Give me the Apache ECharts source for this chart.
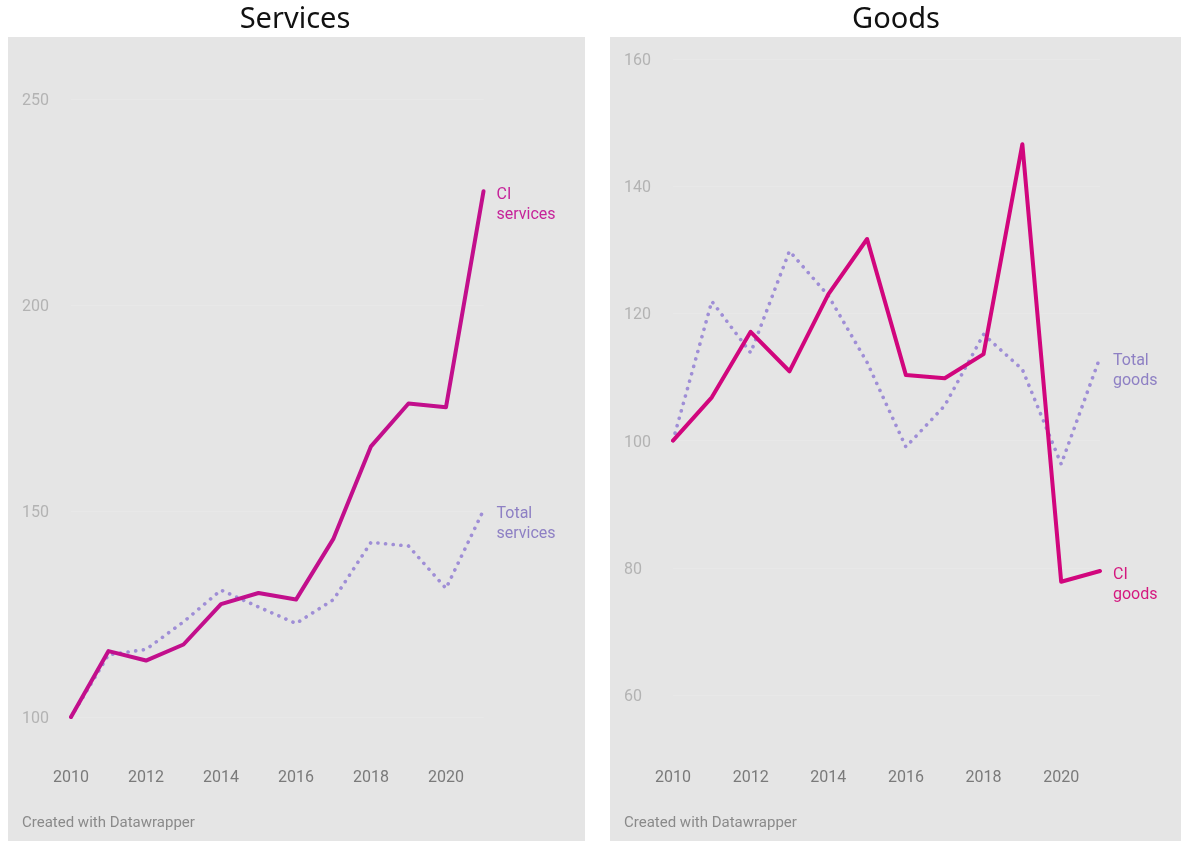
<!DOCTYPE html>
<html>
<head>
<meta charset="utf-8">
<script src="https://cdn.jsdelivr.net/npm/echarts@6/dist/echarts.min.js"></script>
<style>
  html, body { margin: 0; padding: 0; background: #ffffff; }
  #chart { width: 1181px; height: 841px; }
</style>
</head>
<body>
<div id="chart"></div>
<script>
// Index values, 2010 = 100
const years = ['2010','2011','2012','2013','2014','2015','2016','2017','2018','2019','2020','2021'];

const ciServices    = [100, 116.0, 113.7, 117.6, 127.4, 130.1, 128.5, 143.3, 165.7, 176.1, 175.2, 227.6];
const totalServices = [100, 115.1, 116.4, 123.1, 130.8, 126.7, 122.7, 128.5, 142.4, 141.5, 131.2, 150.2];

const ciGoods    = [100, 106.8, 117.1, 110.9, 123.0, 131.7, 110.3, 109.8, 113.6, 146.6, 77.8, 79.5];
const totalGoods = [100, 121.9, 113.8, 129.8, 122.8, 112.3, 99.0, 105.5, 116.7, 111.2, 96.3, 113.1];

const servicesTicks = { min: 100, max: 250, interval: 50 };
const goodsTicks    = { min: 60, max: 160, interval: 20 };

const panelTitles = ['Services', 'Goods'];
const credit = 'Created with Datawrapper';

const FONT = 'Roboto, "Noto Sans", sans-serif';
const BG = '#e5e5e5';

const chart = echarts.init(document.getElementById('chart'), null, { renderer: 'canvas' });

function yAxisFor(ticks, gridIndex) {
  return {
    type: 'value', gridIndex,
    min: ticks.min, max: ticks.max, interval: ticks.interval,
    axisLine: { show: false }, axisTick: { show: false },
    splitLine: { show: true, lineStyle: { color: '#e8e8e8', width: 1 } },
    axisLabel: {
      align: 'left', margin: 49,
      formatter: '{t|{value}}',
      rich: { t: { color: '#b3b3b3', fontSize: 16, fontFamily: FONT, padding: [4, 0, 0, 0] } }
    }
  };
}

function xAxisFor(gridIndex, margin) {
  return {
    type: 'category', gridIndex, data: years, boundaryGap: false,
    axisLine: { show: false }, axisTick: { show: false }, splitLine: { show: false },
    axisLabel: { interval: 1, color: '#7a7a7a', fontSize: 16, fontFamily: FONT, margin }
  };
}

function ciSeries(data, idx, color, labelColor, name) {
  return {
    type: 'line', name, xAxisIndex: idx, yAxisIndex: idx, data,
    symbol: 'none', z: 3,
    lineStyle: { color, width: 4, join: 'round', cap: 'round' },
    endLabel: {
      show: true, formatter: () => name, color: labelColor,
      fontSize: 16, fontFamily: FONT, lineHeight: 20, distance: 13, offset: [0, 14], align: 'left'
    }
  };
}

function totalSeries(data, idx, name) {
  return {
    type: 'line', name, xAxisIndex: idx, yAxisIndex: idx, data,
    symbol: 'none', z: 2,
    lineStyle: { color: '#9f8ed6', width: 3.6, type: [0.1, 7.6], cap: 'round', join: 'round' },
    endLabel: {
      show: true, formatter: () => name, color: '#8e80c4',
      fontSize: 16, fontFamily: FONT, lineHeight: 20, distance: 13, offset: [0, 14], align: 'left'
    }
  };
}

const titleStyle = { fill: '#111', fontSize: 29, fontFamily: '"Noto Sans", sans-serif',
                     textAlign: 'center', textVerticalAlign: 'middle' };
const creditStyle = { fill: '#8a8a8a', fontSize: 15, fontFamily: FONT, textVerticalAlign: 'middle' };

chart.setOption({
  backgroundColor: '#ffffff',
  animation: false,
  graphic: [
    { type: 'rect', z: -10, shape: { x: 8, y: 37, width: 577, height: 804 }, style: { fill: BG } },
    { type: 'rect', z: -10, shape: { x: 610, y: 37, width: 571, height: 804 }, style: { fill: BG } },
    { type: 'text', x: 295, y: 20, style: Object.assign({ text: panelTitles[0] }, titleStyle) },
    { type: 'text', x: 896, y: 20, style: Object.assign({ text: panelTitles[1] }, titleStyle) },
    { type: 'text', x: 22, y: 823, style: Object.assign({ text: credit }, creditStyle) },
    { type: 'text', x: 624, y: 823, style: Object.assign({ text: credit }, creditStyle) }
  ],
  grid: [
    { left: 71, top: 99, width: 412.5, height: 618 },
    { left: 673, top: 59, width: 427, height: 636 }
  ],
  xAxis: [xAxisFor(0, 53), xAxisFor(1, 75)],
  yAxis: [yAxisFor(servicesTicks, 0), yAxisFor(goodsTicks, 1)],
  series: [
    totalSeries(totalServices, 0, 'Total\nservices'),
    ciSeries(ciServices, 0, '#c20f8c', '#c6239a', 'CI\nservices'),
    totalSeries(totalGoods, 1, 'Total\ngoods'),
    ciSeries(ciGoods, 1, '#d1067d', '#d4187f', 'CI\ngoods')
  ]
});
</script>
</body>
</html>
